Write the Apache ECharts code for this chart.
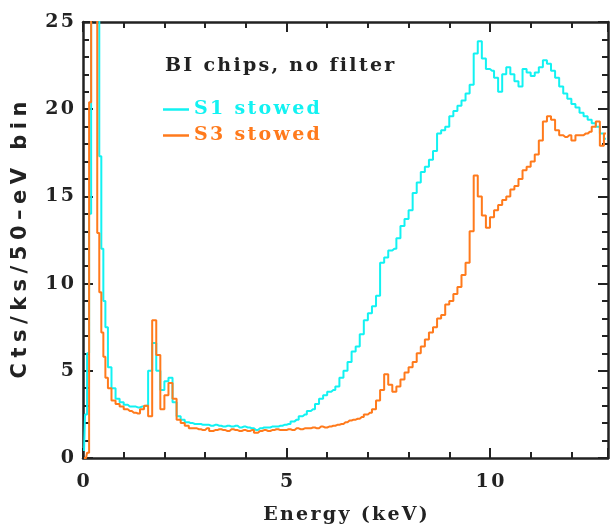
<!DOCTYPE html>
<html>
<head>
<meta charset="utf-8">
<script src="https://cdn.jsdelivr.net/npm/echarts@6/dist/echarts.min.js"></script>
<style>
html,body{margin:0;padding:0;background:#fff;}
#chart{width:610px;height:530px;}
</style>
</head>
<body>
<div id="chart"></div>
<script>
// Energy bin centres (keV)
var energy = [0.025,0.075,0.125,0.175,0.225,0.275,0.325,0.375,0.425,0.475,0.525,0.575,
0.65,0.75,0.85,0.95,1.05,1.15,1.25,1.35,1.45,1.55,1.65,1.75,1.85,1.95,2.05,2.15,2.25,2.35,2.45,2.55,2.65,2.75,2.85,2.95,
3.05,3.15,3.25,3.35,3.45,3.55,3.65,3.75,3.85,3.95,4.05,4.15,4.25,4.35,4.45,4.55,4.65,4.75,4.85,4.95,
5.05,5.15,5.25,5.35,5.45,5.55,5.65,5.75,5.85,5.95,6.05,6.15,6.25,6.35,6.45,6.55,6.65,6.75,6.85,6.95,
7.05,7.15,7.25,7.35,7.45,7.55,7.65,7.75,7.85,7.95,8.05,8.15,8.25,8.35,8.45,8.55,8.65,8.75,8.85,8.95,
9.05,9.15,9.25,9.35,9.45,9.55,9.65,9.75,9.85,9.95,10.05,10.15,10.25,10.35,10.45,10.55,10.65,10.75,10.85,10.95,
11.05,11.15,11.25,11.35,11.45,11.55,11.65,11.75,11.85,11.95,12.05,12.15,12.25,12.35,12.45,12.55,12.65,12.75,12.85];

// S1 stowed (cts/ks/50-eV bin)
var s1 = [0.4,2.5,6,14,30,30,30,30,17.3,12,9,7.5,
5.2,4.0,3.4,3.2,3.05,2.95,2.95,2.9,2.95,3.0,5.0,6.6,5.0,3.9,4.4,4.6,3.2,2.4,2.2,2.05,2.0,1.95,1.95,1.9,
1.9,1.85,1.9,1.85,1.8,1.85,1.8,1.85,1.75,1.8,1.75,1.7,1.6,1.7,1.75,1.75,1.8,1.8,1.85,1.9,
1.95,2.1,2.2,2.4,2.5,2.7,2.8,3.1,3.4,3.6,3.8,3.9,4.1,4.6,5.0,5.5,6.1,6.4,7.1,7.9,
8.3,8.7,9.3,11.2,11.5,11.9,12.0,12.6,13.3,13.7,14.2,15.2,15.8,16.4,16.7,17.1,17.6,18.6,18.8,19.0,
19.6,19.9,20.2,20.5,20.9,21.4,23.2,23.9,22.9,22.3,22.2,21.8,21.0,22.0,22.4,22.0,21.6,21.3,22.3,22.1,
21.9,22.1,22.4,22.8,22.6,22.2,21.8,21.3,20.9,20.6,20.3,20.1,19.8,19.6,19.4,19.2,19.0,18.6,18.3];

// S3 stowed (cts/ks/50-eV bin)
var s3 = [0,0,0.3,20.4,30,30,30,12.9,9.5,7.2,5.8,4.6,
4.0,3.3,3.1,2.95,2.8,2.7,2.6,2.55,2.8,3.0,2.4,7.9,5.9,2.8,3.6,4.3,3.4,2.2,2.0,1.85,1.7,1.7,1.65,1.6,
1.7,1.55,1.6,1.65,1.6,1.55,1.65,1.6,1.55,1.6,1.55,1.6,1.45,1.55,1.6,1.55,1.6,1.65,1.6,1.6,
1.65,1.6,1.7,1.65,1.7,1.7,1.75,1.7,1.8,1.75,1.8,1.85,1.9,1.95,2.05,2.15,2.2,2.25,2.35,2.5,
2.6,2.8,3.3,3.9,4.8,4.2,3.8,4.1,4.5,4.9,5.2,5.5,6.0,6.4,6.8,7.2,7.5,8.0,8.2,8.8,
9.0,9.4,9.8,10.5,11.2,13.0,16.2,15.0,13.9,13.2,13.8,14.2,14.5,14.8,15.0,15.4,15.6,16.0,16.5,16.7,
17.0,17.4,18.2,19.3,19.6,19.4,18.8,18.5,18.4,18.5,18.2,18.5,18.5,18.6,18.7,19.0,19.3,17.9,18.6];

var xTicks = [0, 5, 10];
var yTicks = [0, 5, 10, 15, 20, 25];
var seriesNames = ['S1 stowed', 'S3 stowed'];
var seriesColors = ['#12f2f2', '#ff7a1c'];
var titleText = 'BI chips, no filter';

// wider letter spacing, like the plotting package's fonts (drawn glyph by glyph)
(function(){
  var proto = CanvasRenderingContext2D.prototype;
  var orig = proto.fillText;
  proto.fillText = function(t, x, y, m){
    var f = this.font || '';
    var s = 0;
    if (/DejaVu Sans/.test(f)) s = 5.5;
    else if (/DejaVu Serif/.test(f)) s = 2.3;
    if (!s || typeof t !== 'string' || t.length < 2) {
      return m === undefined ? orig.call(this, t, x, y) : orig.call(this, t, x, y, m);
    }
    var chars = Array.from(t);
    var ctx = this;
    var widths = chars.map(function(c){ return ctx.measureText(c).width; });
    var total = widths.reduce(function(a,b){ return a+b; }, 0) + s * (chars.length - 1);
    var align = this.textAlign;
    var x0 = x;
    if (align === 'center') x0 = x - total / 2;
    else if (align === 'right' || align === 'end') x0 = x - total;
    this.textAlign = 'left';
    for (var i = 0; i < chars.length; i++) {
      orig.call(this, chars[i], x0, y);
      x0 += widths[i] + s;
    }
    this.textAlign = align;
  };
})();

function pairs(xs, ys){ return xs.map(function(x,i){ return [x, ys[i]]; }); }

var serif = 'DejaVu Serif';
var axisCol = '#222';
function mkX(pos, labels){
  return {
    type:'value', position:pos, min:0, max:12.9, interval:5,
    axisLine:{show:true, onZero:false, lineStyle:{color:axisCol, width:2.5}},
    axisTick:{show:true, inside:true, length:10, lineStyle:{color:axisCol, width:2}},
    minorTick:{show:true, splitNumber:5, length:6, lineStyle:{color:axisCol, width:2}},
    splitLine:{show:false}, minorSplitLine:{show:false},
    axisLabel:{show:labels, margin:15, fontFamily:serif, fontWeight:'bold', fontSize:19, color:'#222',
      showMaxLabel:false, formatter:function(v){ return xTicks.indexOf(v)>=0 ? String(v) : ''; }},
    name: labels ? 'Energy (keV)' : '', nameLocation:'middle', nameGap:48,
    nameTextStyle:{fontFamily:serif, fontWeight:'bold', fontSize:19, color:'#222'}
  };
}
function mkY(pos, labels){
  return {
    type:'value', position:pos, min:0, max:25, interval:5,
    axisLine:{show:true, onZero:false, lineStyle:{color:axisCol, width:2.5}},
    axisTick:{show:true, inside:true, length:10, lineStyle:{color:axisCol, width:2}},
    minorTick:{show:true, splitNumber:5, length:6, lineStyle:{color:axisCol, width:2}},
    splitLine:{show:false}, minorSplitLine:{show:false},
    axisLabel:{show:labels, margin:9, fontFamily:serif, fontWeight:'bold', fontSize:19, color:'#222',
      formatter:function(v){ return yTicks.indexOf(v)>=0 ? String(v) : ''; }},
    name: labels ? 'Cts/ks/50\u2013eV bin' : '', nameLocation:'middle', nameGap:52,
    nameTextStyle:{fontFamily:'DejaVu Sans', fontWeight:'bold', fontSize:21, color:'#222'}
  };
}

var chart = echarts.init(document.getElementById('chart'), null, {renderer:'canvas'});
chart.setOption({
  backgroundColor:'#fff',
  animation:false,
  grid:{left:83, top:22, right:2, bottom:69, containLabel:false},
  xAxis:[mkX('bottom', true), mkX('top', false)],
  yAxis:[mkY('left', true), mkY('right', false)],
  title:{text:titleText, left:160, top:52, textStyle:{fontFamily:serif, fontWeight:'bold', fontSize:19, color:'#222'}},
  legend:{
    orient:'vertical', left:158, top:95, itemGap:7, itemWidth:26, itemHeight:2.5, icon:'rect',
    data:[
      {name:seriesNames[0], textStyle:{color:seriesColors[0]}},
      {name:seriesNames[1], textStyle:{color:seriesColors[1]}}
    ],
    textStyle:{fontFamily:serif, fontWeight:'bold', fontSize:19, padding:[0,0,0,0]}
  },
  series:[
    {name:seriesNames[0], type:'line', step:'middle', data:pairs(energy, s1), xAxisIndex:0, yAxisIndex:0,
     symbol:'none', clip:true, lineStyle:{color:seriesColors[0], width:2}, itemStyle:{color:seriesColors[0]}, z:2},
    {name:seriesNames[1], type:'line', step:'middle', data:pairs(energy, s3), xAxisIndex:0, yAxisIndex:0,
     symbol:'none', clip:true, lineStyle:{color:seriesColors[1], width:2}, itemStyle:{color:seriesColors[1]}, z:3}
  ]
});
</script>
</body>
</html>
